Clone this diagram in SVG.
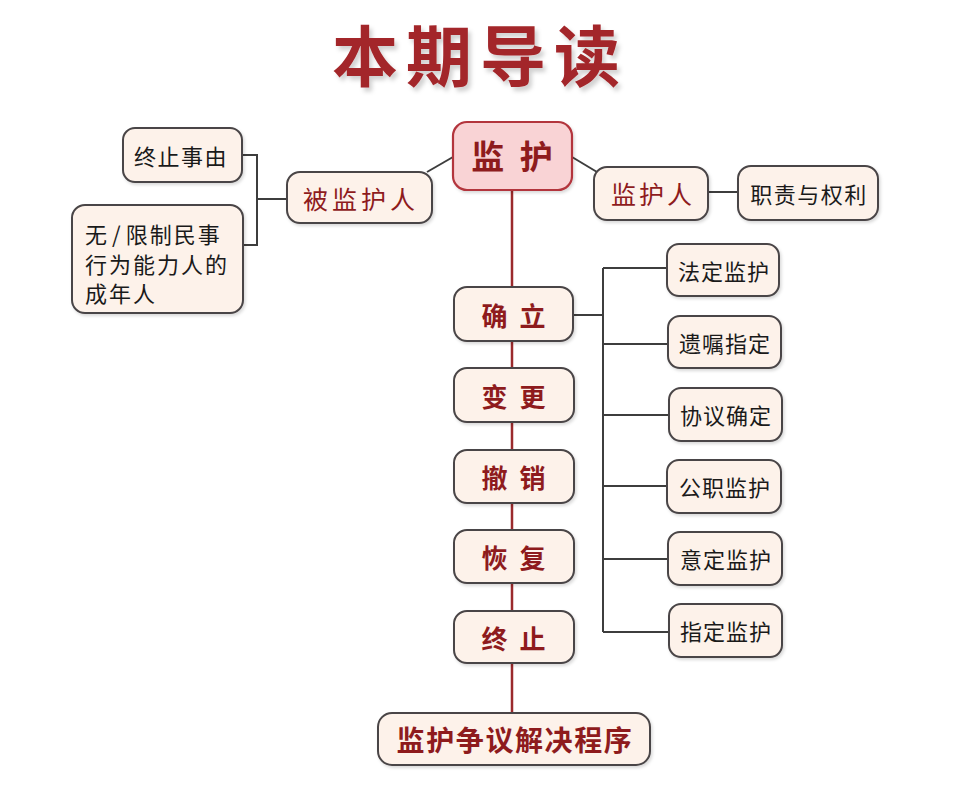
<svg xmlns="http://www.w3.org/2000/svg" width="955" height="804" viewBox="0 0 955 804">
<defs>
<filter id="tsh" x="-10%" y="-20%" width="130%" height="150%">
<feDropShadow dx="3" dy="4" stdDeviation="2" flood-color="#000" flood-opacity="0.18"/>
</filter>
<filter id="bsh" x="-10%" y="-10%" width="130%" height="140%">
<feDropShadow dx="1.5" dy="2" stdDeviation="1.5" flood-color="#000" flood-opacity="0.15"/>
</filter>
</defs>
<style>
text{font-family:"Noto Sans CJK SC","Noto Sans CJK JP",sans-serif;text-anchor:middle;dominant-baseline:central}
.box{fill:#fdf2ea;stroke:#4a4546;stroke-width:2;filter:url(#bsh)}
.root{fill:#f9d3d5;stroke:#b3343c;stroke-width:2.2;filter:url(#bsh)}
.red{fill:#8e1b1d}
.redb{fill:#8e1b1d;font-weight:bold}
.sp{font-size:26px;letter-spacing:3px}
.blk{fill:#1a1a1a;font-size:22px}
.gl{fill:none;stroke:#3d3d3d;stroke-width:2}
.rl{fill:none;stroke:#9b2a2c;stroke-width:2.5}
</style>
<rect width="955" height="804" fill="#ffffff"/>
<text x="480" y="52" style="font-size:66px;font-weight:bold;letter-spacing:8px;fill:#a3262a" filter="url(#tsh)">本期导读</text>

<g id="connectors">
<path class="rl" d="M512,190 V713"/>
<path class="gl" d="M453,157 L427,172"/>
<path class="gl" d="M572,157 L597,172"/>
<path class="gl" d="M242,155 H257 V245 H243 M257,199 H287"/>
<path class="gl" d="M708,192 H738"/>
<path class="gl" d="M573,315 H603 M603,268 V632 M603,268 H667 M603,344 H668 M603,415 H669 M603,486 H667 M603,559 H668 M603,632 H669"/>
</g>

<g id="n-root">
<rect class="root" x="453" y="122" width="119" height="68" rx="14"/>
<text class="redb" x="514" y="155" style="font-size:33px;letter-spacing:4px">监 护</text>
</g>
<g id="n-beijianhuren">
<rect class="box" x="287" y="172" width="145" height="51" rx="13"/>
<text class="red" x="361" y="198" style="font-size:25px;letter-spacing:4px">被监护人</text>
</g>
<g id="n-zhongzhishiyou">
<rect class="box" x="123" y="128" width="119" height="54" rx="12"/>
<text class="blk" x="181" y="155" style="letter-spacing:1.5px">终止事由</text>
</g>
<g id="n-chengnianren">
<rect class="box" x="72" y="205" width="171" height="108" rx="13"/>
<text class="blk" x="85" y="233" style="text-anchor:start;letter-spacing:2px">无<tspan dx="3">/</tspan><tspan dx="3">限制民事</tspan></text>
<text class="blk" x="85" y="263" style="text-anchor:start;letter-spacing:2px">行为能力人的</text>
<text class="blk" x="85" y="292" style="text-anchor:start;letter-spacing:2px">成年人</text>
</g>
<g id="n-jianhuren">
<rect class="box" x="594" y="167" width="114" height="53" rx="13"/>
<text class="red" x="653" y="193" style="font-size:25px;letter-spacing:3px">监护人</text>
</g>
<g id="n-zhize">
<rect class="box" x="738" y="166" width="140" height="54" rx="13"/>
<text class="blk" x="809" y="193" style="letter-spacing:1.5px">职责与权利</text>
</g>

<g id="n-queli">
<rect class="box" x="454" y="287" width="119" height="54" rx="13"/>
<text class="redb sp" x="515" y="314">确 立</text>
</g>
<g id="n-biangeng">
<rect class="box" x="454" y="368" width="120" height="54" rx="13"/>
<text class="redb sp" x="515" y="395">变 更</text>
</g>
<g id="n-chexiao">
<rect class="box" x="454" y="450" width="120" height="53" rx="13"/>
<text class="redb sp" x="515" y="476">撤 销</text>
</g>
<g id="n-huifu">
<rect class="box" x="454" y="530" width="120" height="53" rx="13"/>
<text class="redb sp" x="515" y="556">恢 复</text>
</g>
<g id="n-zhongzhi">
<rect class="box" x="454" y="611" width="120" height="52" rx="13"/>
<text class="redb sp" x="515" y="637">终 止</text>
</g>
<g id="n-zhengyi">
<rect class="box" x="378" y="713" width="272" height="52" rx="14"/>
<text class="redb" x="515" y="739" style="font-size:28px;letter-spacing:1.6px">监护争议解决程序</text>
</g>

<g id="n-fading">
<rect class="box" x="667" y="244" width="112" height="52" rx="12"/>
<text class="blk" x="724" y="270" style="letter-spacing:1px">法定监护</text>
</g>
<g id="n-yizhu">
<rect class="box" x="668" y="316" width="113" height="52" rx="12"/>
<text class="blk" x="725" y="342" style="letter-spacing:1px">遗嘱指定</text>
</g>
<g id="n-xieyi">
<rect class="box" x="669" y="388" width="113" height="53" rx="12"/>
<text class="blk" x="726" y="414" style="letter-spacing:1px">协议确定</text>
</g>
<g id="n-gongzhi">
<rect class="box" x="667" y="460" width="114" height="53" rx="12"/>
<text class="blk" x="725" y="486" style="letter-spacing:1px">公职监护</text>
</g>
<g id="n-yiding">
<rect class="box" x="668" y="532" width="114" height="53" rx="12"/>
<text class="blk" x="726" y="558" style="letter-spacing:1px">意定监护</text>
</g>
<g id="n-zhiding">
<rect class="box" x="669" y="604" width="113" height="53" rx="12"/>
<text class="blk" x="726" y="630" style="letter-spacing:1px">指定监护</text>
</g>
</svg>
